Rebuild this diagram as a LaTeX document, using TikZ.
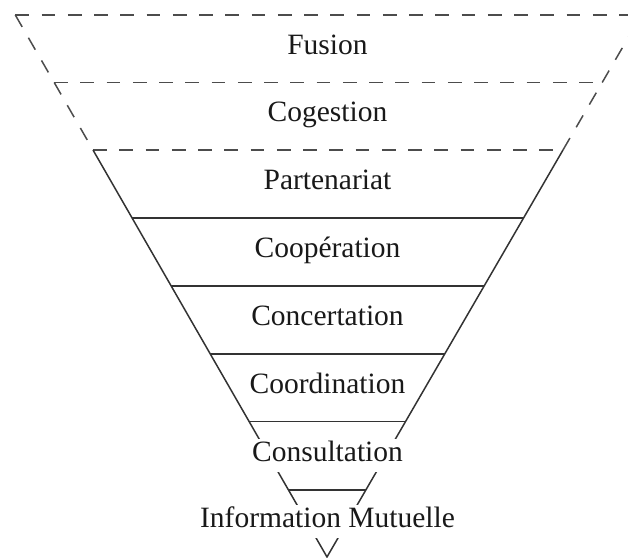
\documentclass[tikz,border=0pt]{standalone}
\usepackage{fontspec}
\setmainfont{Liberation Serif}

\begin{document}
\begin{tikzpicture}[
    x=0.4pt, y=0.4pt,
    level/.style={fill=white, inner xsep=3pt, inner ysep=2pt, text height=0.68em, text depth=0.22em, font=\fontsize{11.8}{14}\selectfont, text=black!90},
    edge/.style={draw=black!80, line width=0.6pt},
    open/.style={draw=black!70, line width=0.6pt, dash pattern=on 5.5pt off 5pt}
]
\useasboundingbox (0,0) rectangle (628,558);
\clip (0,0) rectangle (628,558);

% Corners of the funnel
\coordinate (l0) at (15.3,543);   \coordinate (r0) at (641.4,543);
\coordinate (l1) at (54.2,475.5); \coordinate (r1) at (602.2,475.5);
\coordinate (l2) at (93,408);     \coordinate (r2) at (563,408);
\coordinate (l3) at (132.1,340);  \coordinate (r3) at (523.6,340);
\coordinate (l4) at (171.2,272);  \coordinate (r4) at (484.2,272);
\coordinate (l5) at (210.3,204);  \coordinate (r5) at (444.7,204);
\coordinate (l6) at (249.1,136.5);\coordinate (r6) at (405.6,136.5);
\coordinate (l7) at (288.5,68);   \coordinate (r7) at (365.9,68);
\coordinate (tip) at (327,1);

% Open (dashed) upper levels
\draw[open] (l0) -- (r0);
\draw[open] (l1) -- (r1);
\draw[open] (l2) -- (r2);
\draw[open] (l0) -- (l1);
\draw[open] (l1) -- (l2);
\draw[open] (r1) -- (r0);
\draw[open] (r2) -- (r1);

% Funnel
\draw[edge] (l2) -- (tip) -- (r2);
\draw[edge] (l3) -- (r3);
\draw[edge] (l4) -- (r4);
\draw[edge] (l5) -- (r5);
\draw[edge] (l6) -- (r6);
\draw[edge] (l7) -- (r7);

% Levels
\node[level] (fusion) at (327.5,509) {Fusion};
\node[level] (cogestion) at (327.5,442) {Cogestion};
\node[level] (partenariat) at (327.5,374) {Partenariat};
\node[level] (cooperation) at (327.5,306) {Coopération};
\node[level] (concertation) at (327.5,238) {Concertation};
\node[level] (coordination) at (327.5,170) {Coordination};
\node[level] (consultation) at (327.5,102.5) {Consultation};
\node[level] (information) at (327.5,36.5) {Information Mutuelle};

\end{tikzpicture}
\end{document}
